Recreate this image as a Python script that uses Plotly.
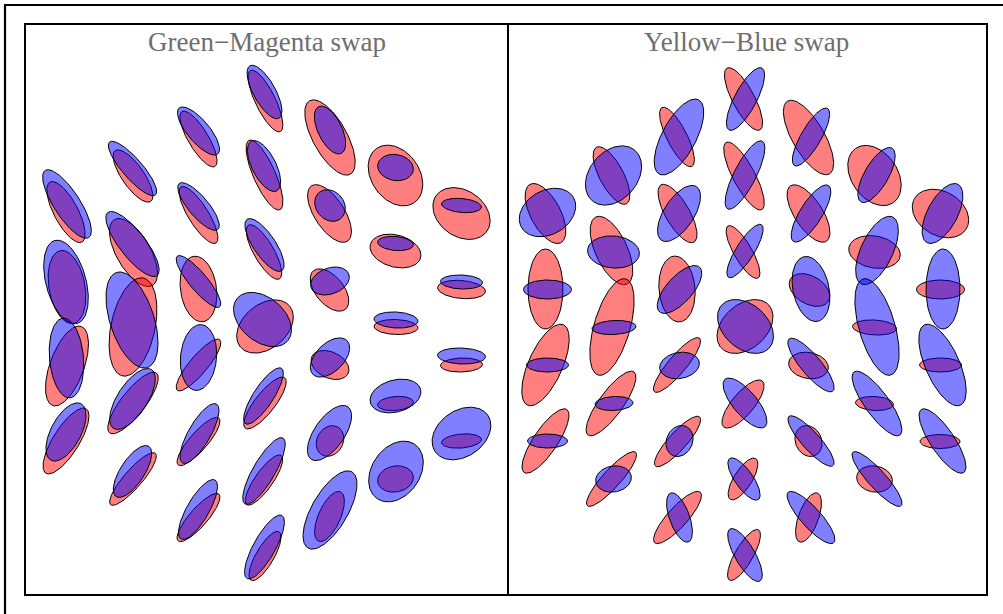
import numpy as np
import plotly.graph_objects as go

# ---- data (panel-local units; y measured downward from panel top) ----
# Panel 1: Green-Magenta swap
gm_red_cx = [40, 41, 41, 40, 107, 107.5, 107, 107, 107, 172.5, 172.5, 172.5, 172.5, 172.5, 172.5,
             239.5, 238.5, 238, 239, 239, 238, 239, 304, 303.5, 303.5, 304, 304, 303.5,
             369.5, 369.5, 370, 369.5, 369.5, 435.5, 435.5, 435.5, 435.5]
gm_red_cy = [187, 262, 341, 416, 151, 227.5, 302, 378, 454, 114, 190, 264, 340, 416.5, 492.5,
             76, 150, 227, 301.5, 378, 455, 531, 112.5, 188.5, 265, 340, 416, 491.5,
             150.5, 226, 302, 378.5, 454, 188.5, 264.5, 340, 416]
gm_red_a = [34, 37, 42, 38, 31, 38, 50, 38, 34, 32, 33, 33, 33, 31, 31,
            34, 38, 31, 32, 32, 30, 28, 42, 33, 25, 20, 16, 27,
            33, 26, 22, 18, 18, 31, 24, 21, 20]
gm_red_b = [12, 18, 17, 13, 11, 17, 22, 12, 9, 10, 10, 18, 9, 9, 9,
            10, 11, 10, 22, 10, 9, 9, 17, 15, 14, 13, 13, 11,
            24, 16, 7.5, 7, 13, 23, 9, 7, 7]
gm_red_ang = [-28, -10, 20, 32, -35, -30, 12, 38, 41, -31, -32, -8, 40, 41, 41,
              -26, -24, -30, 50, 38, 35, 30, -29, -33, -40, -65, 30, 24,
              -35, -75, -88, 85, 80, -55, -85, 88, 85]

gm_blue_cx = [41, 40, 40.5, 40, 106.5, 106.5, 106, 106.5, 106.5, 172.5, 172.5, 172.5, 172.5, 173.5, 172,
              238.5, 238, 238.5, 236.5, 237.5, 238, 238.5, 304, 304, 304, 304, 303.5, 304,
              369.5, 369.5, 370, 369.5, 370, 435.5, 435.5, 435.5, 435.5]
gm_blue_cy = [179, 257, 333, 407, 143.5, 219, 295, 374, 446.5, 106, 181.5, 256.5, 332.5, 408.5, 484.5,
              67, 141, 220, 294.5, 371, 446, 522, 105, 180.5, 256, 332.5, 408, 485,
              142.5, 218.5, 295, 371, 446.5, 180.5, 257, 331, 408.5]
gm_blue_a = [40, 43, 40, 32, 35, 40, 50, 35, 30, 30, 30, 33, 33, 34, 34,
             30, 28, 31, 33, 33, 38, 36, 26, 17, 20, 24, 32, 44,
             18, 18, 22, 26, 33, 20, 21, 24, 32]
gm_blue_b = [13, 20, 17, 15, 10, 13, 22, 15, 12, 11, 10, 9, 18, 11, 11,
             11, 12, 11, 22, 10, 11, 11, 12, 14, 13, 14, 15, 18,
             13, 7, 8, 16, 24, 7, 7, 8, 23]
gm_blue_ang = [-33, -15, -5, 28, -41, -38, -18, 33, 33, -40, -40, -40, 5, 30, 30,
               -29, -27, -34, -50, 33, 30, 29, -26, -40, 70, 45, 35, 30,
               -80, -85, -87, 75, 35, -85, -88, -88, 55]

# Panel 2: Yellow-Blue swap
yb_red_cx = [38.5, 38.5, 38.5, 38.5, 104.5, 104.5, 105, 104, 104.5, 170, 170.5, 170, 170, 170.5, 170.5,
             236.5, 237, 236, 238, 236, 236, 237, 301.5, 301.5, 302.5, 301.5, 301.5, 301.5,
             367.5, 367.5, 367.5, 367.5, 367.5, 433.5, 433.5, 433.5, 433]
yb_red_cy = [188.5, 264, 340, 416, 150.5, 225.5, 302, 378.5, 454, 112, 188.5, 264, 340, 416.5, 492.5,
             74, 151, 227, 301.5, 379, 454, 530, 112.5, 188.5, 265, 340.5, 416, 492.5,
             150.5, 227, 302.5, 378.5, 454, 188.5, 264.5, 340, 416.5]
yb_red_a = [33, 40, 44, 38, 32, 37, 50, 39, 36, 33, 33, 33, 35, 33, 34,
            35, 38, 30, 32, 30, 24, 29, 42, 33, 22, 20, 16, 26,
            33, 26, 22, 19, 18, 30, 24, 21, 20]
yb_red_b = [15, 17.5, 17, 12, 12, 16, 18, 12, 9, 10, 12, 18, 9, 9, 10,
            11, 11, 9, 22, 11, 9, 9, 16, 14, 14, 13, 13, 10,
            23, 16, 7.5, 7, 13, 22, 9.5, 7, 7]
yb_red_ang = [-28, 0, 24, 34, -28, -25, 16, 36, 42, -27, -30, -5, 40, 42, 42,
              -28, -28, -30, 48, 40, 32, 30, -30, -33, -60, -80, -25, 20,
              -35, -80, -87, -87, -80, -60, 90, 90, 90]

yb_blue_cx = [40.5, 40.5, 40.5, 40.5, 106.5, 106.5, 107, 107, 106.5, 172, 172, 172.5, 172.5, 172.5, 172.5,
              238.5, 238, 238, 238.5, 238, 237, 238, 304, 304, 304, 304, 304, 304,
              369.5, 370, 370, 370, 370, 435.5, 436, 435.5, 435.5]
yb_blue_cy = [187.5, 264.5, 340, 416, 150.5, 227, 302.5, 378.5, 454, 112, 188.5, 264.5, 340.5, 416, 492.5,
              74, 150, 226, 301.5, 378, 454, 530, 112, 188.5, 264, 340, 416, 492.5,
              150, 225.5, 302, 378.5, 454, 188.5, 264, 340, 416]
yb_blue_a = [30, 24, 21, 20, 33, 26, 22, 19, 18, 42, 32, 30, 20, 16, 26,
             35, 38, 31, 32, 31, 25, 30, 33, 33, 33, 34, 33, 34,
             31, 37, 50, 39, 36, 33, 40, 44, 38]
yb_blue_b = [22, 9.5, 7, 7, 24, 16, 7, 7, 13, 17, 15, 13, 13, 13, 10,
             11, 11, 9, 22, 12, 9, 10, 10, 11, 18, 10, 9, 10,
             12, 16, 18, 12, 9, 15, 17, 17, 12]
yb_blue_ang = [60, 90, 90, 90, 40, -85, 87, 87, 80, 28, 33, 42, 80, 25, -20,
               28, 27, 32, -48, -40, -35, -30, 30, 32, -12, -40, -42, -42,
               30, 25, -16, -36, -42, 28, 0, -24, -34]

panel_titles = ["Green\u2212Magenta swap", "Yellow\u2212Blue swap"]

# ---- figure geometry ----
W, H = 1003, 614
LW = 1.6
P1 = (26, 507)
P2 = (507 + LW, 986)
PY = (25, 594)

def ellipse(cx, cy, a, b, ang):
    t = np.linspace(0, 2 * np.pi, 121)
    r = np.deg2rad(ang)
    ux, uy = np.sin(r), -np.cos(r)
    vx, vy = np.cos(r), np.sin(r)
    x = cx + a * np.cos(t) * ux + b * np.sin(t) * vx
    y = cy + a * np.cos(t) * uy + b * np.sin(t) * vy
    return x, y

fig = go.Figure()

def add_set(cxs, cys, As, Bs, angs, color, xa, ya):
    for cx, cy, a, b, g in zip(cxs, cys, As, Bs, angs):
        x, y = ellipse(cx, cy, a, b, g)
        fig.add_trace(go.Scatter(x=x, y=y, mode="lines", fill="toself",
                                 fillcolor=color, line=dict(color="black", width=1),
                                 xaxis=xa, yaxis=ya, hoverinfo="skip", showlegend=False))

RED = "rgba(255,0,0,0.5)"
BLUE = "rgba(0,0,255,0.5)"
add_set(gm_red_cx, gm_red_cy, gm_red_a, gm_red_b, gm_red_ang, RED, "x", "y")
add_set(yb_red_cx, yb_red_cy, yb_red_a, yb_red_b, yb_red_ang, RED, "x2", "y2")
add_set(gm_blue_cx, gm_blue_cy, gm_blue_a, gm_blue_b, gm_blue_ang, BLUE, "x", "y")
add_set(yb_blue_cx, yb_blue_cy, yb_blue_a, yb_blue_b, yb_blue_ang, BLUE, "x2", "y2")

ydom = [1 - PY[1] / H, 1 - PY[0] / H]
ax_common = dict(showgrid=False, zeroline=False, showticklabels=False, ticks="",
                 showline=True, mirror=True, linecolor="black", linewidth=LW, fixedrange=True)

fig.update_layout(
    width=W, height=H, margin=dict(l=0, r=0, t=0, b=0),
    paper_bgcolor="white", plot_bgcolor="white",
    xaxis=dict(domain=[P1[0] / W, P1[1] / W], range=[0, P1[1] - P1[0]], **ax_common),
    yaxis=dict(domain=ydom, range=[PY[1] - PY[0], 0], anchor="x", **ax_common),
    xaxis2=dict(domain=[P2[0] / W, P2[1] / W], range=[LW, 986 - 507], anchor="y2", **ax_common),
    yaxis2=dict(domain=ydom, range=[PY[1] - PY[0], 0], anchor="x2", **ax_common),
)

for title, xc in zip(panel_titles, [(26 + 507) / 2, (507 + 986) / 2]):
    fig.add_annotation(text=title, xref="paper", yref="paper",
                       x=xc / W, y=1 - 42 / H, xanchor="center", yanchor="middle",
                       showarrow=False,
                       font=dict(family="Liberation Serif, Times New Roman, serif", size=27,
                                 color="#6e6e6e"))

# outer frame (top and left edges visible)
fig.add_shape(type="rect", xref="paper", yref="paper",
              x0=5 / W, y0=-0.2, x1=1.2, y1=1 - 5 / H,
              line=dict(color="black", width=2.2), layer="above")

fig.write_html("out.html", config={"displayModeBar": False},
               post_script="document.body.style.margin='0px';document.body.style.padding='0px';"
                           "document.body.style.overflow='hidden';")
